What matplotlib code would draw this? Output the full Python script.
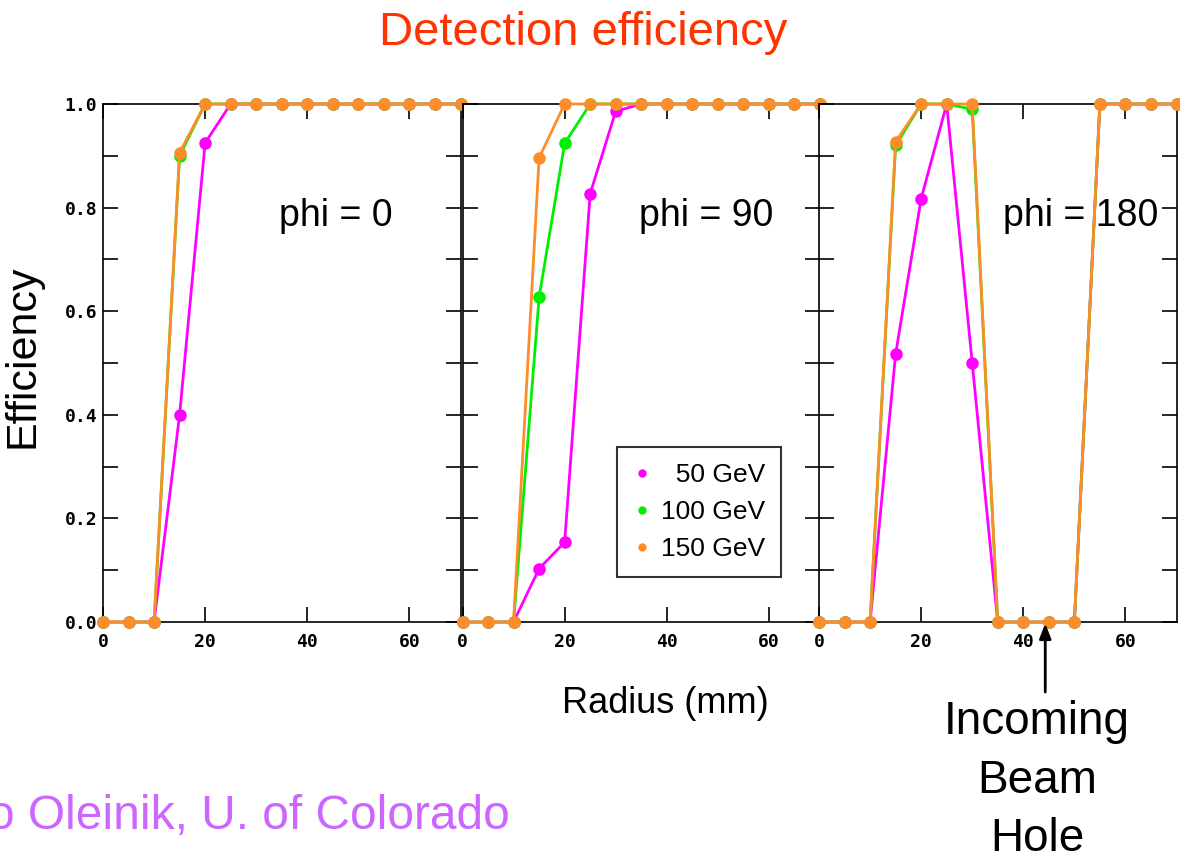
import matplotlib
matplotlib.use("Agg")
import matplotlib.pyplot as plt
from matplotlib.lines import Line2D
from matplotlib.ticker import MultipleLocator, FixedLocator

# ---- data ----
radius = [0, 5, 10, 15, 20, 25, 30, 35, 40, 45, 50, 55, 60, 65, 70]
phi_labels = ["phi = 0", "phi = 90", "phi = 180"]
energies = ["50 GeV", "100 GeV", "150 GeV"]

phi0_50 = [0, 0, 0, 0.40, 0.925, 1, 1, 1, 1, 1, 1, 1, 1, 1, 1]
phi0_100 = [0, 0, 0, 0.90, 1, 1, 1, 1, 1, 1, 1, 1, 1, 1, 1]
phi0_150 = [0, 0, 0, 0.906, 1, 1, 1, 1, 1, 1, 1, 1, 1, 1, 1]

phi90_50 = [0, 0, 0, 0.103, 0.154, 0.827, 0.986, 1, 1, 1, 1, 1, 1, 1, 1]
phi90_100 = [0, 0, 0, 0.627, 0.924, 1, 1, 1, 1, 1, 1, 1, 1, 1, 1]
phi90_150 = [0, 0, 0, 0.896, 1, 1, 1, 1, 1, 1, 1, 1, 1, 1, 1]

phi180_50 = [0, 0, 0, 0.517, 0.817, 1.0, 0.50, 0, 0, 0, 0, 1, 1, 1, 1]
phi180_100 = [0, 0, 0, 0.92, 1, 1, 0.99, 0, 0, 0, 0, 1, 1, 1, 1]
phi180_150 = [0, 0, 0, 0.927, 1, 1, 1, 0, 0, 0, 0, 1, 1, 1, 1]

panels = [
    (phi0_50, phi0_100, phi0_150),
    (phi90_50, phi90_100, phi90_150),
    (phi180_50, phi180_100, phi180_150),
]
colors = ["#FF00FF", "#00EE00", "#FF8C2A"]
beam_hole_x = 44.3

# ---- figure ----
W, H = 1180, 852
fig = plt.figure(figsize=(W / 100, H / 100), dpi=100)

SANS = ["Liberation Sans", "DejaVu Sans"]
TICKFONT = dict(family="DejaVu Sans Mono", weight="bold", size=13)

lefts = [103, 462.5, 819]
width = 357.5
bottom, top = 622, 104
axes = []
for i, left in enumerate(lefts):
    ax = fig.add_axes([left / W, 1 - bottom / H, width / W, (bottom - top) / H])
    axes.append(ax)
    ys = panels[i]
    for y, c in zip(ys, colors):
        ax.plot(radius, y, color=c, lw=2.0, marker="o", ms=8, mec=c, mfc=c,
                clip_on=False, zorder=3)
    ax.set_xlim(0, 70)
    ax.set_ylim(0, 1.0)
    ax.xaxis.set_major_locator(FixedLocator([0, 20, 40, 60]))
    ax.yaxis.set_major_locator(MultipleLocator(0.2))
    ax.yaxis.set_minor_locator(MultipleLocator(0.1))
    ax.tick_params(axis="both", which="both", direction="in", top=True,
                   right=True, length=11, width=1.2, color="black")
    ax.tick_params(axis="x", pad=8)
    ax.tick_params(axis="y", pad=4)
    for lab in ax.get_xticklabels() + ax.get_yticklabels():
        lab.set_fontfamily(TICKFONT["family"])
        lab.set_fontweight(TICKFONT["weight"])
        lab.set_fontsize(TICKFONT["size"])
    if i > 0:
        ax.tick_params(axis="y", labelleft=False)
    else:
        ax.yaxis.set_major_formatter(plt.FormatStrFormatter("%.1f"))
    for s in ax.spines.values():
        s.set_linewidth(1.2)
        s.set_color("black")
    xpos = [0.493, 0.493, 0.515][i]
    ax.text(xpos, 0.764, phi_labels[i], transform=ax.transAxes, ha="left",
            va="baseline", fontsize=27, family=SANS, zorder=5)

# legend in middle panel
handles = [Line2D([], [], color=c, marker="o", ls="none", ms=5) for c in colors]
leg_labels = ["  50 GeV", "100 GeV", "150 GeV"]
leg = axes[1].legend(handles, leg_labels, loc="upper right",
                     bbox_to_anchor=(0.891, 0.338), borderaxespad=0,
                     frameon=True, fancybox=False, edgecolor="black",
                     prop={"family": SANS, "size": 19}, labelspacing=0.5,
                     handlelength=0.7, handletextpad=0.35, borderpad=0.6)
leg.get_frame().set_linewidth(1.5)
leg.set_zorder(10)

# labels
fig.text(583 / W, 1 - 45 / H, "Detection efficiency", color="#FF3300",
         fontsize=34, family=SANS, ha="center", va="baseline")
fig.text(43 / W, 1 - 356 / H, "Efficiency", rotation=90, fontsize=31,
         family=SANS, ha="right", va="center")
fig.text(665 / W, 1 - 713 / H, "Radius (mm)", fontsize=26, family=SANS,
         ha="center", va="baseline")
fig.text(-12 / W, 1 - 829 / H, "o Oleinik, U. of Colorado", color="#CC66FF",
         fontsize=34.5, family=SANS, ha="left", va="baseline")

# annotation arrow for beam hole
axes[2].annotate("", xy=(beam_hole_x, 0), xycoords="data",
                 xytext=(beam_hole_x, H - 692),
                 textcoords=("data", "figure pixels"),
                 arrowprops=dict(arrowstyle="-|>,head_width=0.35,head_length=0.9",
                                 color="black", lw=2, shrinkA=0, shrinkB=1),
                 annotation_clip=False)
fig.text(1037 / W, 1 - 851 / H, "Incoming\nBeam\nHole", fontsize=33,
         family=SANS, ha="center", va="baseline", linespacing=1.42)

fig.savefig("out.png", dpi=100)
